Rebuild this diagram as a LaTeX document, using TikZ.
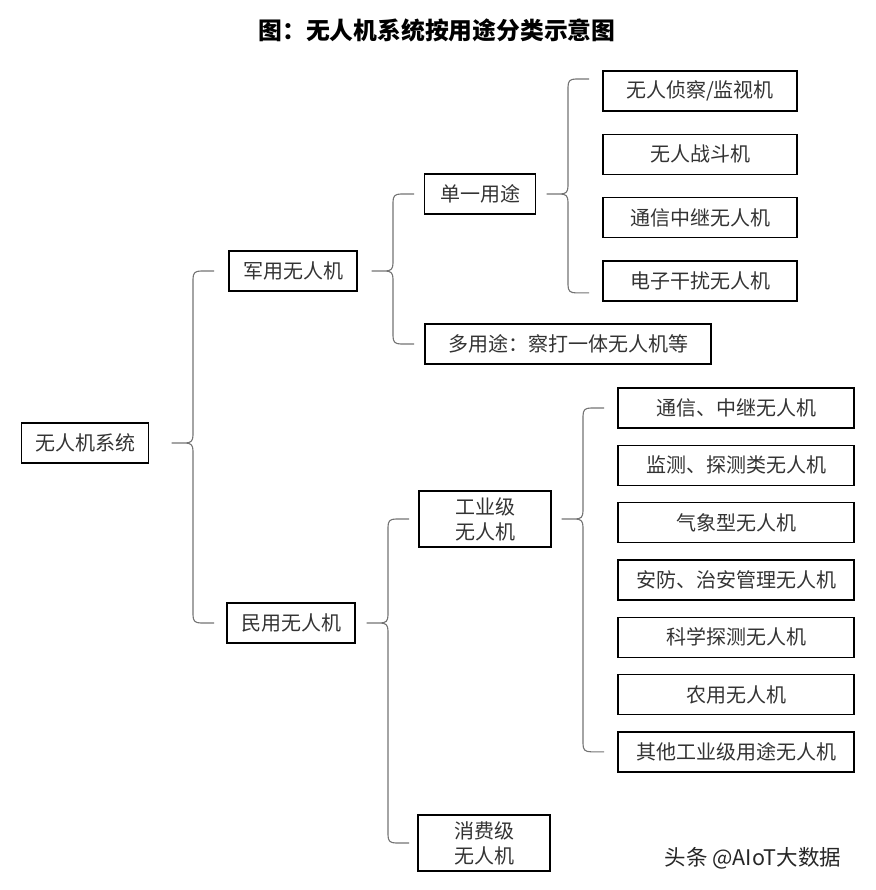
\documentclass[tikz,border=0pt]{standalone}
\usepackage{fontspec}
\setmainfont{Noto Sans CJK SC}
\usetikzlibrary{positioning, calc}
\tikzstyle{block}=[draw,rectangle,line width=1.4pt,minimum height=40pt,inner sep=0pt,text=black!80]
\tikzstyle{curly}=[draw=black!55,line width=1.1pt,line join=round]
\tikzstyle{every node}=[font=\fontsize{20}{25}\selectfont]

% #1 overhang, #2 parent, #3 upper child, #4 lower child, #5 x of the spine
\newcommand{\branch}[5][0]{%
  \coordinate (sp) at (#5,0);
  \coordinate (T) at ($(sp |- #3)+(0,#1)$);
  \coordinate (M) at (sp |- #2);
  \coordinate (B) at ($(sp |- #4)+(0,-#1)$);
  \draw[curly] ($(T)+(21,0)$) -- ($(T)+(8,0)$) .. controls ($(T)+(2,0)$) and ($(T)+(0,-2)$) .. ($(T)+(0,-8)$)
    -- ($(M)+(0,8)$) .. controls ($(M)+(0,2)$) and ($(M)+(-2,0)$) .. ($(M)+(-8,0)$) -- ($(M)+(-21,0)$)
    -- ($(M)+(-8,0)$) .. controls ($(M)+(-2,0)$) and ($(M)+(0,-2)$) .. ($(M)+(0,-8)$)
    -- ($(B)+(0,8)$) .. controls ($(B)+(0,2)$) and ($(B)+(2,0)$) .. ($(B)+(8,0)$) -- ($(B)+(21,0)$);
}

\begin{document}
\begin{tikzpicture}[x=1pt,y=1pt]
    \useasboundingbox (0,0) rectangle (875,-890);
    \node[font=\fontsize{23.8}{28}\selectfont\bfseries] (title) at (437,-30) {图：无人机系统按用途分类示意图};

    \node[block, minimum width=127pt] (root) at (85,-443) {无人机系统};
    \node[block, minimum width=128pt] (mil) at (293,-271) {军用无人机};
    \node[block, minimum width=128pt] (civ) at (291,-623) {民用无人机};

    % military branch
    \node[block, minimum width=111pt] (single) at (480,-194) {单一用途};
    \node[block, minimum width=286pt] (multi) at (568,-344) {多用途：察打一体无人机等};
    \node[block, minimum width=194pt] (recon) at (700,-91) {无人侦察/监视机};
    \node[block, minimum width=194pt, below of=recon, node distance=63.3pt] (combat) {无人战斗机};
    \node[block, minimum width=194pt, below of=combat, node distance=63.3pt] (relay) {通信中继无人机};
    \node[block, minimum width=194pt, below of=relay, node distance=63.3pt] (jam) {电子干扰无人机};

    % civil branch
    \node[block, minimum width=132pt, minimum height=56pt, align=center] (ind) at (485,-519) {工业级\\无人机};
    \node[block, minimum width=132pt, minimum height=56pt, align=center] (cons) at (484,-843) {消费级\\无人机};
    \node[block, minimum width=236pt] (comm) at (736,-408) {通信、中继无人机};
    \node[block, minimum width=236pt, below of=comm, node distance=57.3pt] (watch) {监测、探测类无人机};
    \node[block, minimum width=236pt, below of=watch, node distance=57.3pt] (weather) {气象型无人机};
    \node[block, minimum width=236pt, below of=weather, node distance=57.3pt] (secur) {安防、治安管理无人机};
    \node[block, minimum width=236pt, below of=secur, node distance=57.3pt] (sci) {科学探测无人机};
    \node[block, minimum width=236pt, below of=sci, node distance=57.3pt] (agri) {农用无人机};
    \node[block, minimum width=236pt, below of=agri, node distance=57.3pt] (other) {其他工业级用途无人机};

    \node[text=black!85, font=\fontsize{21.5}{25}\selectfont] (wm) at (753,-858) {头条 @AIoT大数据};

    \branch{root}{mil}{civ}{193}
    \branch{mil}{single}{multi}{393}
    \branch[12]{single}{recon}{jam}{568}
    \branch{civ}{ind}{cons}{388}
    \branch{ind}{comm}{other}{583}
\end{tikzpicture}
\end{document}
